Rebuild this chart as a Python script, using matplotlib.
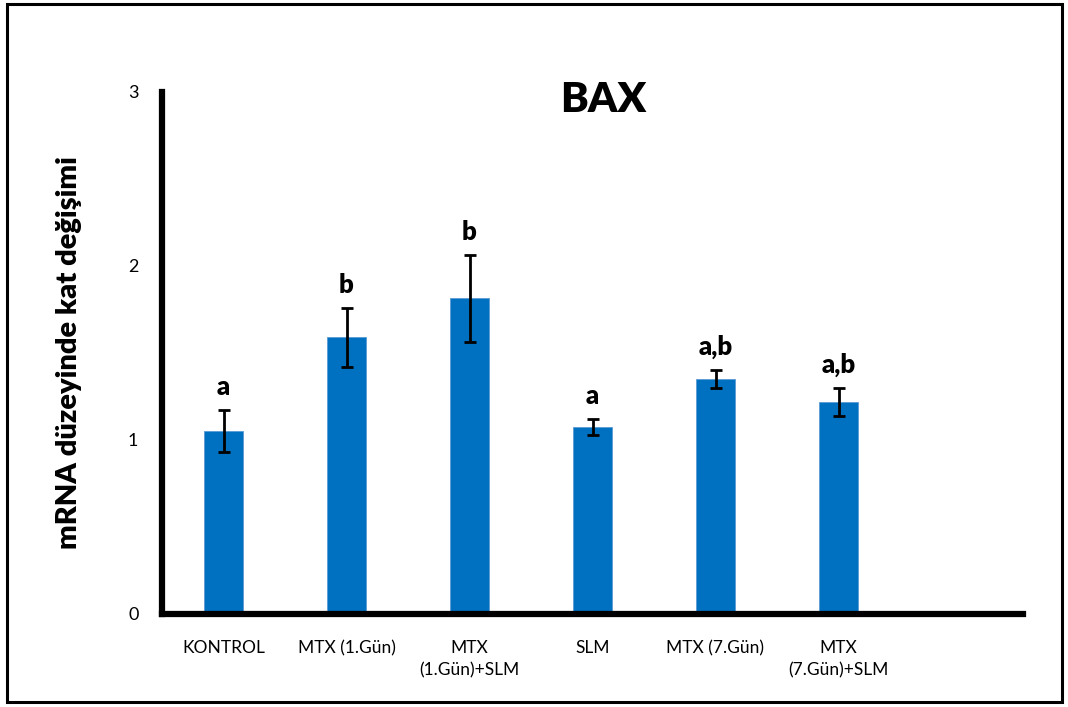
import matplotlib
matplotlib.use("Agg")
import matplotlib.pyplot as plt
from matplotlib.patches import Rectangle
from matplotlib import font_manager

# Group names, mean fold change and error (±)
categories = ["KONTROL", "MTX (1.Gün)", "MTX\n(1.Gün)+SLM", "SLM", "MTX (7.Gün)", "MTX\n(7.Gün)+SLM"]
values = [1.05, 1.59, 1.815, 1.075, 1.35, 1.22]
errors = [0.12, 0.17, 0.25, 0.045, 0.05, 0.08]
letters = ["a", "b", "b", "a", "a,b", "a,b"]
yticks = [0, 1, 2, 3]

installed = {f.name for f in font_manager.fontManager.ttflist}
label_font = "Lato" if "Lato" in installed else "DejaVu Sans"
tick_font = "Liberation Sans Narrow" if "Liberation Sans Narrow" in installed else label_font

W, H = 1068, 707
fig = plt.figure(figsize=(W / 100, H / 100), dpi=100)
ax = fig.add_axes([162 / W, 1 - 614 / H, (1023 - 162) / W, (614 - 92) / H])

x = list(range(len(categories)))
bar_color = "#0070C0"
ax.bar(x, values, width=0.32, color=bar_color, edgecolor="#5B9BD5", linewidth=0.6, zorder=2)
ax.errorbar(x, values, yerr=errors, fmt="none", ecolor="black", elinewidth=2,
            capsize=4, capthick=2, zorder=3)

for xi, v, e, t in zip(x, values, errors, letters):
    ax.annotate(t, (xi, v + e), xytext=(0, 8), textcoords="offset points",
                ha="center", va="bottom", fontsize=18.5, fontweight="heavy",
                family=label_font)

ax.set_xlim(-0.5, 6.5)
ax.set_ylim(0, 3)
ax.set_yticks(yticks)
ax.set_yticklabels([str(t) for t in yticks], family=tick_font, fontsize=13)
ax.set_xticks(x)
ax.set_xticklabels(categories, family=tick_font, fontsize=12.5, linespacing=1.45, va="top")
ax.tick_params(axis="both", length=0)
ax.tick_params(axis="y", pad=17)
ax.tick_params(axis="x", pad=19)

for side in ("top", "right"):
    ax.spines[side].set_visible(False)
for side in ("left", "bottom"):
    ax.spines[side].set_linewidth(4.5)
    ax.spines[side].set_color("black")
    ax.spines[side].set_capstyle("projecting")

ax.set_ylabel("mRNA düzeyinde kat değişimi", family=label_font, fontsize=21,
              fontweight="heavy", labelpad=33)
fig.text(603 / W, 1 - 100 / H, "BAX", ha="center", va="center",
         family=label_font, fontsize=30, fontweight="heavy")

# Frame around the whole figure
fig.patches.append(Rectangle((7 / W, 5 / H), (1062 - 7) / W, (703 - 5) / H,
                             transform=fig.transFigure, fill=False,
                             edgecolor="black", linewidth=2.2))

fig.savefig("out.png", dpi=100)
